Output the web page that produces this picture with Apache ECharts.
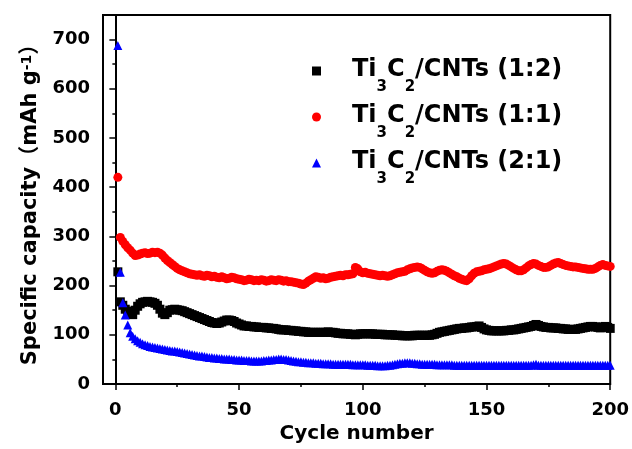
<!DOCTYPE html>
<html>
<head>
<meta charset="utf-8">
<script src="https://cdn.jsdelivr.net/npm/echarts@6/dist/echarts.min.js"></script>
<style>
  html, body { margin: 0; padding: 0; background: #fff; }
  #chart { width: 632px; height: 449px; }
</style>
</head>
<body>
<div id="chart"></div>
<script>
// capacity per cycle (cycle 1..200)
const seriesNames = ['Ti3C2/CNTs (1:2)', 'Ti3C2/CNTs (1:1)', 'Ti3C2/CNTs (2:1)']

const cap12 = [
  228, 167, 160, 152, 148, 143, 141, 150, 158, 163,
  166, 167, 168, 167, 166, 164, 160, 152, 144, 141,
  145, 150, 151, 152, 151, 150, 149, 147, 145, 143,
  141, 139, 137, 135, 133, 131, 129, 127, 125, 124,
  123, 124, 126, 128, 130, 130, 129, 127, 124, 122,
  120, 118, 118, 117, 117, 116, 116, 115, 115, 115,
  114, 114, 113, 113, 112, 111, 110, 110, 110, 109,
  109, 108, 108, 107, 107, 106, 106, 105, 105, 105,
  105, 105, 105, 105, 105, 106, 105, 105, 104, 103,
  103, 102, 102, 102, 101, 101, 100, 101, 102, 102,
  102, 102, 102, 102, 101, 101, 101, 101, 100, 100,
  100, 100, 99, 99, 99, 98, 98, 98, 98, 98,
  99, 99, 99, 99, 99, 99, 99, 100, 101, 103,
  105, 106, 107, 108, 109, 110, 111, 112, 113, 113,
  114, 114, 115, 116, 116, 117, 118, 115, 112, 110,
  109, 108, 108, 108, 108, 108, 108, 109, 109, 110,
  110, 111, 112, 113, 114, 115, 116, 117, 119, 121,
  119, 117, 116, 115, 115, 114, 114, 114, 113, 113,
  112, 112, 111, 111, 111, 111, 112, 113, 114, 115,
  116, 117, 117, 116, 115, 114, 116, 117, 115, 113
]

const cap11 = [
  420, 298, 290, 283, 277, 272, 266, 261, 262, 264,
  266, 267, 265, 266, 268, 267, 268, 266, 262, 256,
  251, 247, 243, 239, 235, 232, 230, 228, 226, 224,
  223, 222, 221, 222, 220, 219, 221, 220, 218, 219,
  217, 216, 218, 216, 214, 215, 217, 216, 214, 213,
  212, 210, 211, 213, 212, 210, 211, 210, 212, 211,
  209, 210, 212, 211, 210, 212, 211, 209, 210, 208,
  208, 207, 206, 205, 203, 202, 205, 209, 212, 215,
  218, 217, 215, 216, 214, 215, 217, 218, 219, 220,
  221, 220, 222, 222, 223, 224, 237, 234, 228, 226,
  227, 225, 224, 223, 222, 221, 220, 221, 220, 219,
  220, 222, 224, 226, 227, 228, 229, 232, 234, 236,
  237, 238, 237, 234, 231, 228, 226, 225, 226, 229,
  231, 232, 231, 229, 226, 223, 220, 218, 215, 213,
  211, 210, 214, 220, 225, 228, 229, 230, 232, 233,
  234, 236, 238, 240, 242, 244, 245, 244, 241, 238,
  235, 232, 230, 230, 232, 236, 240, 243, 245, 244,
  241, 239, 237, 237, 238, 241, 244, 246, 247, 245,
  243, 241, 240, 239, 238, 238, 237, 236, 235, 234,
  233, 233, 233, 235, 238, 241, 243, 241, 240, 239
]

const cap21 = [
  688, 227, 165, 140, 120, 104, 97, 92, 88, 85,
  82, 80, 78, 76, 75, 74, 73, 72, 71, 70,
  69, 68, 67, 67, 66, 65, 64, 63, 62, 61,
  60, 59, 58, 57, 57, 56, 55, 54, 54, 53,
  53, 52, 52, 51, 51, 51, 50, 50, 49, 49,
  49, 48, 48, 48, 47, 47, 47, 47, 47, 48,
  48, 49, 49, 50, 50, 51, 51, 50, 50, 49,
  48, 47, 46, 45, 45, 44, 44, 43, 43, 43,
  42, 42, 42, 41, 41, 41, 41, 40, 40, 40,
  40, 40, 40, 40, 40, 39, 39, 39, 39, 39,
  39, 38, 38, 38, 38, 37, 37, 37, 37, 38,
  38, 39, 40, 41, 42, 42, 43, 43, 43, 42,
  42, 41, 41, 40, 40, 40, 40, 40, 40, 39,
  39, 39, 39, 39, 39, 39, 38, 38, 38, 38,
  38, 38, 38, 38, 38, 38, 38, 38, 38, 38,
  38, 38, 38, 38, 38, 38, 38, 38, 38, 38,
  38, 38, 38, 38, 38, 38, 38, 38, 39, 40,
  38, 38, 38, 38, 38, 38, 38, 38, 38, 38,
  38, 38, 38, 38, 38, 38, 38, 38, 38, 38,
  38, 38, 38, 38, 38, 38, 38, 38, 38, 38
]

const xTicks = [0, 50, 100, 150, 200]
const xMinorTicks = [25, 75, 125, 175]
const yTicks = [0, 100, 200, 300, 400, 500, 600, 700]
const yMinorTicks = [50, 150, 250, 350, 450, 550, 650]

const font = "'DejaVu Sans', 'Noto Sans CJK SC', sans-serif"

// pair each capacity with its cycle number
function toPoints (arr) {
  return arr.map((v, i) => [i + 1, v])
}

function legendLabel (name) {
  // Ti3C2/CNTs (x:y) -> subscripts on 3 and 2
  const tail = name.slice(5)
  return '{g|}{m|Ti}{s|3}{m|C}{s|2}{m|' + tail + '}'
}

const chart = echarts.init(document.getElementById('chart'))

const axisLine = { show: true, lineStyle: { color: '#000', width: 2 } }

chart.setOption({
  backgroundColor: '#fff',
  animation: false,
  textStyle: { fontFamily: font },
  grid: {
    left: 103,
    right: 19,
    top: 15,
    bottom: 59,
    show: true,
    borderColor: '#000',
    borderWidth: 2
  },
  legend: {
    orient: 'vertical',
    left: 307,
    top: 53,
    itemWidth: 9,
    itemHeight: 9,
    itemGap: 9,
    data: seriesNames,
    formatter: legendLabel,
    textStyle: {
      rich: {
        g: { width: 26, lineHeight: 26, verticalAlign: 'top' },
        m: { fontFamily: font, fontWeight: 'bold', fontSize: 24, lineHeight: 26, color: '#000', verticalAlign: 'top' },
        s: { fontFamily: font, fontWeight: 'bold', fontSize: 15, lineHeight: 15, color: '#000', verticalAlign: 'top', padding: [22, 0, 0, 0] }
      }
    }
  },
  xAxis: [{
    type: 'value',
    min: -5,
    max: 200,
    name: 'Cycle number',
    nameLocation: 'middle',
    nameGap: 40,
    nameTextStyle: { fontFamily: font, fontWeight: 'bold', fontSize: 20, color: '#000' },
    axisLine: axisLine,
    axisTick: { show: true, customValues: xTicks, length: 6, lineStyle: { color: '#000', width: 1.5 } },
    axisLabel: { customValues: xTicks, margin: 17, fontFamily: font, fontWeight: 'bold', fontSize: 18, color: '#000' },
    splitLine: { show: false }
  }, {
    type: 'value',
    min: -5,
    max: 200,
    gridIndex: 0,
    position: 'bottom',
    axisLine: { show: false },
    axisTick: { show: true, customValues: xMinorTicks, length: 3, lineStyle: { color: '#000', width: 1.5 } },
    axisLabel: { show: false },
    splitLine: { show: false }
  }],
  yAxis: [{
    type: 'value',
    min: 0,
    max: 750,
    name: '{a|Specific capacity（mAh g}{p|-1}{a|）}',
    nameLocation: 'middle',
    nameGap: 60,
    nameTextStyle: {
      rich: {
        a: { fontFamily: font, fontWeight: 'bold', fontSize: 21, lineHeight: 23, color: '#000', verticalAlign: 'top' },
        p: { fontFamily: font, fontWeight: 'bold', fontSize: 14, lineHeight: 14, color: '#000', verticalAlign: 'top' }
      }
    },
    axisLine: axisLine,
    axisTick: { show: true, customValues: yTicks, length: 6, lineStyle: { color: '#000', width: 1.5 } },
    axisLabel: { customValues: yTicks, margin: 13, fontFamily: font, fontWeight: 'bold', fontSize: 18, color: '#000' },
    splitLine: { show: false }
  }, {
    type: 'value',
    min: 0,
    max: 750,
    gridIndex: 0,
    position: 'left',
    axisLine: { show: false },
    axisTick: { show: true, customValues: yMinorTicks, length: 3, lineStyle: { color: '#000', width: 1.5 } },
    axisLabel: { show: false },
    splitLine: { show: false }
  }],
  series: [{
    name: seriesNames[0],
    type: 'scatter',
    symbol: 'rect',
    symbolSize: 9,
    itemStyle: { color: '#000', opacity: 1 },
    data: toPoints(cap12)
  }, {
    name: seriesNames[1],
    type: 'scatter',
    symbol: 'circle',
    symbolSize: 9,
    itemStyle: { color: '#ff0000', opacity: 1 },
    data: toPoints(cap11)
  }, {
    name: seriesNames[2],
    type: 'scatter',
    symbol: 'triangle',
    symbolSize: 9,
    itemStyle: { color: '#0000ff', opacity: 1 },
    data: toPoints(cap21)
  }]
})
</script>
</body>
</html>
